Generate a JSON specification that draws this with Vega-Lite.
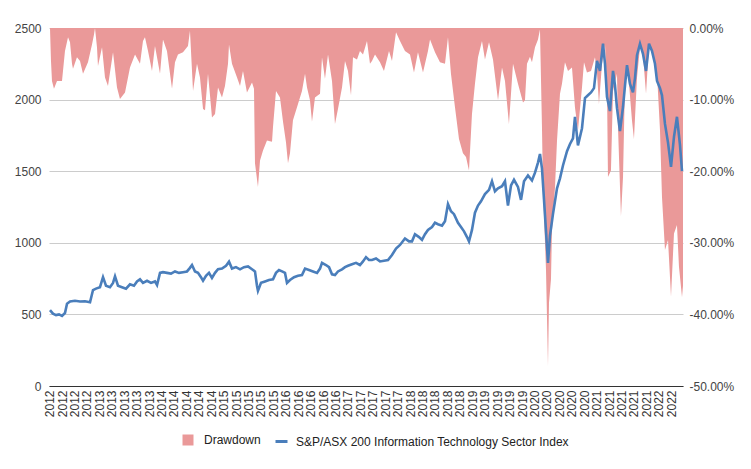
{
  "$schema": "https://vega.github.io/schema/vega-lite/v6.json",
  "width": 634,
  "height": 358,
  "autosize": {"type": "none"},
  "padding": {"left": 49, "top": 28, "right": 68, "bottom": 83},
  "background": "white",
  "config": {
    "font": "Liberation Sans",
    "view": {"stroke": null},
    "axis": {"labelFont": "Liberation Sans", "labelFontSize": 12, "labelColor": "#444", "ticks": false, "domain": false, "title": null},
    "legend": {"labelFont": "Liberation Sans", "labelFontSize": 12, "labelColor": "#222", "labelOffset": 10, "labelLimit": 500, "title": null}
  },
  "datasets": {
    "drawdown": [
      {"year": 2012.210, "drawdown": 0}, {"year": 2012.226, "drawdown": 0}, {"year": 2012.242, "drawdown": -0.046}, {"year": 2012.258, "drawdown": -0.074},
      {"year": 2012.290, "drawdown": -0.085}, {"year": 2012.339, "drawdown": -0.074}, {"year": 2012.419, "drawdown": -0.074}, {"year": 2012.467, "drawdown": -0.032},
      {"year": 2012.516, "drawdown": -0.013}, {"year": 2012.548, "drawdown": -0.020}, {"year": 2012.580, "drawdown": -0.050}, {"year": 2012.596, "drawdown": -0.057},
      {"year": 2012.660, "drawdown": -0.041}, {"year": 2012.709, "drawdown": -0.046}, {"year": 2012.757, "drawdown": -0.064}, {"year": 2012.837, "drawdown": -0.048},
      {"year": 2012.902, "drawdown": -0.023}, {"year": 2012.934, "drawdown": -0.009}, {"year": 2012.950, "drawdown": 0}, {"year": 2012.982, "drawdown": -0.027},
      {"year": 2012.998, "drawdown": -0.053}, {"year": 2013.063, "drawdown": -0.027}, {"year": 2013.111, "drawdown": -0.069}, {"year": 2013.159, "drawdown": -0.081},
      {"year": 2013.240, "drawdown": -0.034}, {"year": 2013.304, "drawdown": -0.083}, {"year": 2013.352, "drawdown": -0.099}, {"year": 2013.433, "drawdown": -0.090},
      {"year": 2013.513, "drawdown": -0.055}, {"year": 2013.594, "drawdown": -0.037}, {"year": 2013.674, "drawdown": -0.050}, {"year": 2013.722, "drawdown": -0.018},
      {"year": 2013.754, "drawdown": -0.013}, {"year": 2013.803, "drawdown": -0.032}, {"year": 2013.867, "drawdown": -0.060}, {"year": 2013.915, "drawdown": -0.025},
      {"year": 2013.996, "drawdown": -0.064}, {"year": 2014.044, "drawdown": -0.016}, {"year": 2014.108, "drawdown": -0.032}, {"year": 2014.189, "drawdown": -0.085},
      {"year": 2014.237, "drawdown": -0.048}, {"year": 2014.285, "drawdown": -0.037}, {"year": 2014.366, "drawdown": -0.034}, {"year": 2014.446, "drawdown": -0.025},
      {"year": 2014.478, "drawdown": -0.004}, {"year": 2014.527, "drawdown": -0.088}, {"year": 2014.591, "drawdown": -0.050}, {"year": 2014.639, "drawdown": -0.069},
      {"year": 2014.688, "drawdown": -0.113}, {"year": 2014.720, "drawdown": -0.115}, {"year": 2014.768, "drawdown": -0.064}, {"year": 2014.800, "drawdown": -0.094},
      {"year": 2014.832, "drawdown": -0.125}, {"year": 2014.881, "drawdown": -0.120}, {"year": 2014.929, "drawdown": -0.083}, {"year": 2014.993, "drawdown": -0.097},
      {"year": 2015.041, "drawdown": -0.081}, {"year": 2015.090, "drawdown": -0.050}, {"year": 2015.106, "drawdown": -0.023}, {"year": 2015.154, "drawdown": -0.050},
      {"year": 2015.235, "drawdown": -0.069}, {"year": 2015.283, "drawdown": -0.081}, {"year": 2015.331, "drawdown": -0.060}, {"year": 2015.395, "drawdown": -0.090},
      {"year": 2015.476, "drawdown": -0.076}, {"year": 2015.508, "drawdown": -0.085}, {"year": 2015.524, "drawdown": -0.189}, {"year": 2015.572, "drawdown": -0.222},
      {"year": 2015.605, "drawdown": -0.185}, {"year": 2015.653, "drawdown": -0.171}, {"year": 2015.717, "drawdown": -0.157}, {"year": 2015.798, "drawdown": -0.159},
      {"year": 2015.814, "drawdown": -0.138}, {"year": 2015.862, "drawdown": -0.088}, {"year": 2015.926, "drawdown": -0.097}, {"year": 2015.975, "drawdown": -0.131},
      {"year": 2016.023, "drawdown": -0.160}, {"year": 2016.055, "drawdown": -0.189}, {"year": 2016.087, "drawdown": -0.175}, {"year": 2016.135, "drawdown": -0.129},
      {"year": 2016.216, "drawdown": -0.106}, {"year": 2016.280, "drawdown": -0.088}, {"year": 2016.329, "drawdown": -0.064}, {"year": 2016.361, "drawdown": -0.083},
      {"year": 2016.409, "drawdown": -0.101}, {"year": 2016.441, "drawdown": -0.131}, {"year": 2016.489, "drawdown": -0.097}, {"year": 2016.570, "drawdown": -0.092},
      {"year": 2016.602, "drawdown": -0.041}, {"year": 2016.650, "drawdown": -0.071}, {"year": 2016.699, "drawdown": -0.037}, {"year": 2016.763, "drawdown": -0.074},
      {"year": 2016.811, "drawdown": -0.134}, {"year": 2016.859, "drawdown": -0.113}, {"year": 2016.924, "drawdown": -0.083}, {"year": 2016.972, "drawdown": -0.046},
      {"year": 2017.020, "drawdown": -0.060}, {"year": 2017.069, "drawdown": -0.094}, {"year": 2017.101, "drawdown": -0.041}, {"year": 2017.165, "drawdown": -0.044},
      {"year": 2017.213, "drawdown": -0.032}, {"year": 2017.262, "drawdown": -0.037}, {"year": 2017.326, "drawdown": -0.018}, {"year": 2017.374, "drawdown": -0.050},
      {"year": 2017.406, "drawdown": -0.046}, {"year": 2017.455, "drawdown": -0.037}, {"year": 2017.535, "drawdown": -0.048}, {"year": 2017.599, "drawdown": -0.060},
      {"year": 2017.680, "drawdown": -0.032}, {"year": 2017.728, "drawdown": -0.046}, {"year": 2017.793, "drawdown": -0.006}, {"year": 2017.857, "drawdown": -0.018},
      {"year": 2017.937, "drawdown": -0.032}, {"year": 2018.018, "drawdown": -0.037}, {"year": 2018.082, "drawdown": -0.062}, {"year": 2018.146, "drawdown": -0.034},
      {"year": 2018.227, "drawdown": -0.062}, {"year": 2018.307, "drawdown": -0.032}, {"year": 2018.340, "drawdown": -0.016}, {"year": 2018.420, "drawdown": -0.034},
      {"year": 2018.500, "drawdown": -0.048}, {"year": 2018.581, "drawdown": -0.050}, {"year": 2018.629, "drawdown": -0.013}, {"year": 2018.677, "drawdown": -0.064},
      {"year": 2018.742, "drawdown": -0.111}, {"year": 2018.806, "drawdown": -0.155}, {"year": 2018.870, "drawdown": -0.175}, {"year": 2018.919, "drawdown": -0.180},
      {"year": 2018.967, "drawdown": -0.199}, {"year": 2019.015, "drawdown": -0.120}, {"year": 2019.063, "drawdown": -0.078}, {"year": 2019.112, "drawdown": -0.041},
      {"year": 2019.176, "drawdown": -0.018}, {"year": 2019.224, "drawdown": -0.044}, {"year": 2019.289, "drawdown": -0.020}, {"year": 2019.353, "drawdown": -0.044},
      {"year": 2019.434, "drawdown": -0.101}, {"year": 2019.498, "drawdown": -0.055}, {"year": 2019.546, "drawdown": -0.074}, {"year": 2019.610, "drawdown": -0.134},
      {"year": 2019.675, "drawdown": -0.050}, {"year": 2019.755, "drawdown": -0.078}, {"year": 2019.836, "drawdown": -0.104}, {"year": 2019.868, "drawdown": -0.101},
      {"year": 2019.900, "drawdown": -0.050}, {"year": 2019.948, "drawdown": -0.040}, {"year": 2019.980, "drawdown": -0.048}, {"year": 2020.029, "drawdown": -0.027},
      {"year": 2020.077, "drawdown": -0.016}, {"year": 2020.109, "drawdown": -0.002}, {"year": 2020.141, "drawdown": -0.138}, {"year": 2020.157, "drawdown": -0.222},
      {"year": 2020.206, "drawdown": -0.338}, {"year": 2020.238, "drawdown": -0.472}, {"year": 2020.254, "drawdown": -0.384}, {"year": 2020.286, "drawdown": -0.351},
      {"year": 2020.302, "drawdown": -0.282}, {"year": 2020.351, "drawdown": -0.222}, {"year": 2020.383, "drawdown": -0.157}, {"year": 2020.431, "drawdown": -0.092},
      {"year": 2020.463, "drawdown": -0.078}, {"year": 2020.511, "drawdown": -0.048}, {"year": 2020.560, "drawdown": -0.060}, {"year": 2020.624, "drawdown": -0.055},
      {"year": 2020.672, "drawdown": -0.111}, {"year": 2020.720, "drawdown": -0.143}, {"year": 2020.785, "drawdown": -0.083}, {"year": 2020.817, "drawdown": -0.048},
      {"year": 2020.865, "drawdown": -0.062}, {"year": 2020.930, "drawdown": -0.060}, {"year": 2020.994, "drawdown": -0.041}, {"year": 2021.026, "drawdown": -0.062},
      {"year": 2021.058, "drawdown": -0.106}, {"year": 2021.107, "drawdown": -0.050}, {"year": 2021.155, "drawdown": -0.023}, {"year": 2021.187, "drawdown": -0.083},
      {"year": 2021.203, "drawdown": -0.208}, {"year": 2021.251, "drawdown": -0.199}, {"year": 2021.284, "drawdown": -0.088}, {"year": 2021.348, "drawdown": -0.064},
      {"year": 2021.364, "drawdown": -0.138}, {"year": 2021.412, "drawdown": -0.263}, {"year": 2021.445, "drawdown": -0.208}, {"year": 2021.477, "drawdown": -0.074},
      {"year": 2021.525, "drawdown": -0.060}, {"year": 2021.589, "drawdown": -0.129}, {"year": 2021.621, "drawdown": -0.155}, {"year": 2021.670, "drawdown": -0.069},
      {"year": 2021.718, "drawdown": -0.027}, {"year": 2021.766, "drawdown": -0.037}, {"year": 2021.815, "drawdown": -0.092}, {"year": 2021.863, "drawdown": -0.023},
      {"year": 2021.911, "drawdown": -0.032}, {"year": 2021.992, "drawdown": -0.064}, {"year": 2022.040, "drawdown": -0.143}, {"year": 2022.072, "drawdown": -0.236},
      {"year": 2022.120, "drawdown": -0.310}, {"year": 2022.169, "drawdown": -0.296}, {"year": 2022.217, "drawdown": -0.375}, {"year": 2022.265, "drawdown": -0.287},
      {"year": 2022.313, "drawdown": -0.275}, {"year": 2022.345, "drawdown": -0.333}, {"year": 2022.394, "drawdown": -0.376}, {"year": 2022.410, "drawdown": -0.360}
    ],
    "index": [
      {"year": 2012.226, "value": 530}, {"year": 2012.274, "value": 505}, {"year": 2012.323, "value": 495}, {"year": 2012.371, "value": 500},
      {"year": 2012.419, "value": 490}, {"year": 2012.467, "value": 510}, {"year": 2012.500, "value": 575}, {"year": 2012.548, "value": 590},
      {"year": 2012.628, "value": 595}, {"year": 2012.709, "value": 590}, {"year": 2012.789, "value": 592}, {"year": 2012.870, "value": 585},
      {"year": 2012.918, "value": 670}, {"year": 2012.966, "value": 680}, {"year": 2013.030, "value": 690}, {"year": 2013.079, "value": 760},
      {"year": 2013.127, "value": 700}, {"year": 2013.191, "value": 690}, {"year": 2013.240, "value": 720}, {"year": 2013.272, "value": 765},
      {"year": 2013.320, "value": 700}, {"year": 2013.384, "value": 690}, {"year": 2013.449, "value": 680}, {"year": 2013.513, "value": 710},
      {"year": 2013.577, "value": 700}, {"year": 2013.626, "value": 730}, {"year": 2013.674, "value": 745}, {"year": 2013.722, "value": 720},
      {"year": 2013.787, "value": 735}, {"year": 2013.851, "value": 720}, {"year": 2013.915, "value": 730}, {"year": 2013.948, "value": 705},
      {"year": 2013.996, "value": 790}, {"year": 2014.044, "value": 795}, {"year": 2014.108, "value": 790}, {"year": 2014.173, "value": 785},
      {"year": 2014.237, "value": 800}, {"year": 2014.301, "value": 790}, {"year": 2014.366, "value": 795}, {"year": 2014.430, "value": 800},
      {"year": 2014.478, "value": 825}, {"year": 2014.511, "value": 845}, {"year": 2014.559, "value": 800}, {"year": 2014.607, "value": 790},
      {"year": 2014.655, "value": 760}, {"year": 2014.688, "value": 735}, {"year": 2014.736, "value": 770}, {"year": 2014.784, "value": 790},
      {"year": 2014.832, "value": 755}, {"year": 2014.881, "value": 790}, {"year": 2014.929, "value": 815}, {"year": 2014.993, "value": 820},
      {"year": 2015.058, "value": 840}, {"year": 2015.106, "value": 868}, {"year": 2015.154, "value": 820}, {"year": 2015.218, "value": 830},
      {"year": 2015.283, "value": 815}, {"year": 2015.347, "value": 830}, {"year": 2015.412, "value": 835}, {"year": 2015.476, "value": 815},
      {"year": 2015.524, "value": 800}, {"year": 2015.556, "value": 700}, {"year": 2015.572, "value": 665}, {"year": 2015.621, "value": 720},
      {"year": 2015.685, "value": 730}, {"year": 2015.749, "value": 740}, {"year": 2015.814, "value": 745}, {"year": 2015.862, "value": 790},
      {"year": 2015.910, "value": 810}, {"year": 2015.959, "value": 800}, {"year": 2016.007, "value": 790}, {"year": 2016.039, "value": 720},
      {"year": 2016.087, "value": 740}, {"year": 2016.152, "value": 760}, {"year": 2016.216, "value": 770}, {"year": 2016.280, "value": 775},
      {"year": 2016.329, "value": 820}, {"year": 2016.393, "value": 810}, {"year": 2016.457, "value": 800}, {"year": 2016.522, "value": 790},
      {"year": 2016.570, "value": 820}, {"year": 2016.602, "value": 860}, {"year": 2016.666, "value": 845}, {"year": 2016.715, "value": 830},
      {"year": 2016.763, "value": 780}, {"year": 2016.811, "value": 775}, {"year": 2016.859, "value": 800}, {"year": 2016.924, "value": 815},
      {"year": 2016.972, "value": 830}, {"year": 2017.020, "value": 840}, {"year": 2017.085, "value": 850}, {"year": 2017.149, "value": 860},
      {"year": 2017.213, "value": 845}, {"year": 2017.262, "value": 870}, {"year": 2017.310, "value": 900}, {"year": 2017.358, "value": 880},
      {"year": 2017.406, "value": 880}, {"year": 2017.471, "value": 890}, {"year": 2017.535, "value": 870}, {"year": 2017.599, "value": 875},
      {"year": 2017.664, "value": 880}, {"year": 2017.728, "value": 915}, {"year": 2017.793, "value": 960}, {"year": 2017.857, "value": 985},
      {"year": 2017.937, "value": 1030}, {"year": 2018.002, "value": 1010}, {"year": 2018.050, "value": 1010}, {"year": 2018.098, "value": 1060},
      {"year": 2018.163, "value": 1040}, {"year": 2018.211, "value": 1020}, {"year": 2018.259, "value": 1060}, {"year": 2018.307, "value": 1090},
      {"year": 2018.372, "value": 1110}, {"year": 2018.420, "value": 1140}, {"year": 2018.468, "value": 1130}, {"year": 2018.533, "value": 1120},
      {"year": 2018.581, "value": 1150}, {"year": 2018.629, "value": 1270}, {"year": 2018.677, "value": 1220}, {"year": 2018.726, "value": 1200},
      {"year": 2018.790, "value": 1140}, {"year": 2018.838, "value": 1110}, {"year": 2018.887, "value": 1080}, {"year": 2018.935, "value": 1040},
      {"year": 2018.967, "value": 1010}, {"year": 2019.015, "value": 1090}, {"year": 2019.063, "value": 1210}, {"year": 2019.112, "value": 1260},
      {"year": 2019.160, "value": 1290}, {"year": 2019.224, "value": 1340}, {"year": 2019.289, "value": 1370}, {"year": 2019.337, "value": 1430},
      {"year": 2019.385, "value": 1360}, {"year": 2019.434, "value": 1380}, {"year": 2019.498, "value": 1395}, {"year": 2019.546, "value": 1430},
      {"year": 2019.594, "value": 1260}, {"year": 2019.643, "value": 1400}, {"year": 2019.691, "value": 1440}, {"year": 2019.755, "value": 1390},
      {"year": 2019.804, "value": 1300}, {"year": 2019.852, "value": 1430}, {"year": 2019.916, "value": 1470}, {"year": 2019.980, "value": 1435},
      {"year": 2020.029, "value": 1490}, {"year": 2020.077, "value": 1560}, {"year": 2020.109, "value": 1620}, {"year": 2020.141, "value": 1520},
      {"year": 2020.174, "value": 1300}, {"year": 2020.206, "value": 1080}, {"year": 2020.238, "value": 860}, {"year": 2020.270, "value": 1050},
      {"year": 2020.318, "value": 1200}, {"year": 2020.383, "value": 1380}, {"year": 2020.431, "value": 1450}, {"year": 2020.479, "value": 1540},
      {"year": 2020.544, "value": 1640}, {"year": 2020.592, "value": 1690}, {"year": 2020.640, "value": 1730}, {"year": 2020.672, "value": 1880},
      {"year": 2020.720, "value": 1680}, {"year": 2020.785, "value": 1800}, {"year": 2020.833, "value": 2010}, {"year": 2020.881, "value": 2030},
      {"year": 2020.930, "value": 2050}, {"year": 2020.978, "value": 2080}, {"year": 2021.026, "value": 2270}, {"year": 2021.074, "value": 2200},
      {"year": 2021.123, "value": 2390}, {"year": 2021.155, "value": 2250}, {"year": 2021.187, "value": 2020}, {"year": 2021.235, "value": 1920},
      {"year": 2021.284, "value": 2200}, {"year": 2021.316, "value": 2100}, {"year": 2021.348, "value": 1940}, {"year": 2021.396, "value": 1780},
      {"year": 2021.445, "value": 1950}, {"year": 2021.477, "value": 2100}, {"year": 2021.509, "value": 2240}, {"year": 2021.557, "value": 2110},
      {"year": 2021.605, "value": 2050}, {"year": 2021.638, "value": 2150}, {"year": 2021.670, "value": 2310}, {"year": 2021.718, "value": 2390},
      {"year": 2021.766, "value": 2320}, {"year": 2021.815, "value": 2200}, {"year": 2021.863, "value": 2390}, {"year": 2021.911, "value": 2340},
      {"year": 2021.959, "value": 2250}, {"year": 2021.992, "value": 2130}, {"year": 2022.040, "value": 2080}, {"year": 2022.072, "value": 2030},
      {"year": 2022.120, "value": 1830}, {"year": 2022.169, "value": 1700}, {"year": 2022.217, "value": 1530}, {"year": 2022.265, "value": 1740},
      {"year": 2022.313, "value": 1880}, {"year": 2022.362, "value": 1680}, {"year": 2022.394, "value": 1500}
    ]
  },
  "encoding": {
    "x": {
      "field": "year", "type": "quantitative",
      "scale": {"domain": [2012.21, 2022.41], "nice": false, "zero": false},
      "axis": {
        "values": [2012.22, 2012.42, 2012.62, 2012.82, 2013.02, 2013.22, 2013.42, 2013.62, 2013.82, 2014.02, 2014.22, 2014.42, 2014.62, 2014.82, 2015.02, 2015.22, 2015.42, 2015.62, 2015.82, 2016.02, 2016.22, 2016.42, 2016.62, 2016.82, 2017.02, 2017.22, 2017.42, 2017.62, 2017.82, 2018.02, 2018.22, 2018.42, 2018.62, 2018.82, 2019.02, 2019.22, 2019.42, 2019.62, 2019.82, 2020.02, 2020.22, 2020.42, 2020.62, 2020.82, 2021.02, 2021.22, 2021.42, 2021.62, 2021.82, 2022.02, 2022.22],
        "labelExpr": "floor(datum.value)",
        "labelAngle": -90, "labelOverlap": false, "labelFlush": false,
        "domain": true, "domainColor": "#333", "domainWidth": 1,
        "grid": false, "labelPadding": 4, "labelColor": "#333"
      }
    }
  },
  "layer": [
    {
      "data": {"name": "drawdown"},
      "mark": {"type": "area", "interpolate": "linear", "opacity": 1},
      "encoding": {
        "y": {
          "field": "drawdown", "type": "quantitative", "stack": null,
          "scale": {"domain": [-0.5, 0], "nice": false, "zero": false},
          "axis": {
            "orient": "right", "values": [0, -0.1, -0.2, -0.3, -0.4, -0.5],
            "labelExpr": "replace(format(datum.value, '.2%'), '\u2212', '-')",
            "grid": false, "labelPadding": 6
          }
        },
        "fill": {
          "datum": "Drawdown",
          "scale": {"range": ["#ea9999"]},
          "legend": {"orient": "none", "legendX": 133, "legendY": 406, "symbolType": "square", "symbolSize": 121, "symbolStrokeWidth": 0, "title": null}
        }
      }
    },
    {
      "data": {"name": "index"},
      "mark": {"type": "line", "strokeWidth": 2.6, "interpolate": "linear"},
      "encoding": {
        "y": {
          "field": "value", "type": "quantitative",
          "scale": {"domain": [0, 2500], "nice": false},
          "axis": {"orient": "left", "values": [0, 500, 1000, 1500, 2000, 2500], "format": "d", "grid": true, "gridColor": "#cccccc", "labelPadding": 8}
        },
        "stroke": {
          "datum": "S&P/ASX 200 Information Technology Sector Index",
          "scale": {"range": ["#4a7ebb"]},
          "legend": {"orient": "none", "legendX": 225, "legendY": 406, "labelOffset": 7, "symbolType": "stroke", "symbolSize": 144, "symbolStrokeWidth": 3, "title": null}
        }
      }
    }
  ],
  "resolve": {"scale": {"y": "independent"}}
}
